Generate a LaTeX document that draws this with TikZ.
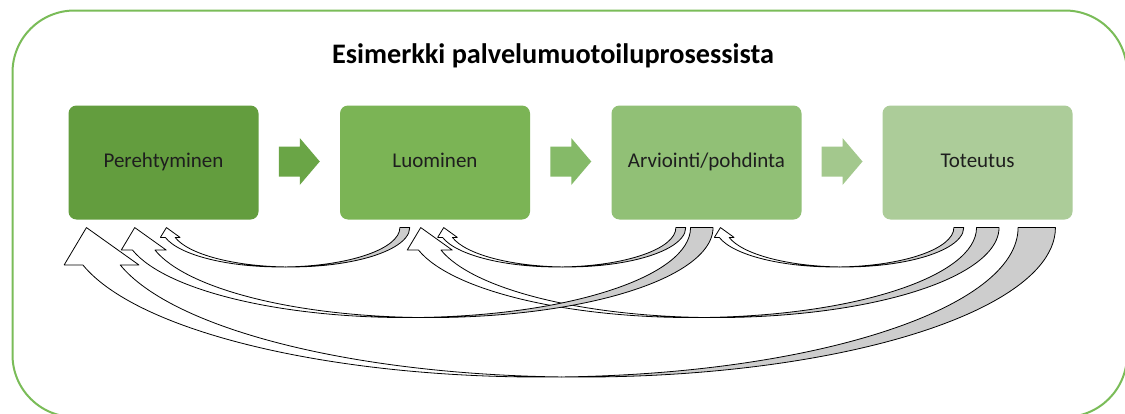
\documentclass[tikz,border=0pt]{standalone}
\usepackage{fontspec}
\setmainfont{Carlito}
\usetikzlibrary{calc}

\definecolor{frameGreen}{RGB}{122,188,88}
\definecolor{stageA}{RGB}{99,157,62}
\definecolor{stageB}{RGB}{123,180,85}
\definecolor{stageC}{RGB}{145,192,118}
\definecolor{stageD}{RGB}{172,204,153}
\definecolor{stepA}{RGB}{106,165,70}
\definecolor{stepB}{RGB}{133,186,104}
\definecolor{stepC}{RGB}{163,200,141}
\definecolor{ribbonGrey}{RGB}{205,205,205}
\definecolor{labelInk}{RGB}{30,30,30}

\tikzset{
  stage/.style={rounded corners=6pt, minimum width=142.5pt, minimum height=85.5pt,
    inner sep=0pt, text=labelInk, text height=0.95em, text depth=0.25em,
    font=\fontsize{15.75pt}{18pt}\selectfont},
  ribbonback/.style={fill=ribbonGrey, draw=black, line width=0.6pt, line join=round},
  ribbonfront/.style={fill=white, draw=black, line width=0.6pt, line join=round},
}

% forward step arrow centred between two stages
\newcommand\stepsign[3]{%
  \fill[#3] ($(#1.east)!0.5!(#2.west)+(0,-1)$) ++(-20.5,-15) -- ++(21,0) -- ++(0,-8.5)
    -- ++(20,23.5) -- ++(-20,23.5) -- ++(0,-8.5) -- ++(-21,0) -- cycle;
}

% curved return ribbon: #1 source stage, #2 tail offset, #3 target stage,
% #4 tip offset, #5 depth of the loop (px)
\newcommand\loopback[5]{%
  \path ($(#1.south west)+(#2,7.8)$); \pgfgetlastxy{\lbRd}{\lbTd}%
  \path ($(#3.south west)+(#4,7.8)$); \pgfgetlastxy{\lbXd}{\lbYd}%
  \pgfmathsetmacro\lbR{\lbRd}%
  \pgfmathsetmacro\lbT{\lbTd}%
  \pgfmathsetmacro\lbX{\lbXd}%
  \pgfmathsetmacro\lbh{0.75*#5}%
  \pgfmathsetmacro\lbth{0.25*\lbh}%
  \pgfmathsetmacro\lbw{(\lbR-\lbX-0.5*\lbth)/2}%
  \pgfmathsetmacro\lbi{acos(\lbth/(2*\lbw))}%
  \pgfmathsetmacro\lbea{-180+\lbi}%
  \pgfmathsetmacro\lbeb{-\lbi}%
  \pgfmathsetmacro\lbc{\lbR-\lbw}%
  \pgfmathsetmacro\lbix{\lbc-0.5*\lbth}%
  \pgfmathsetmacro\lbiy{\lbT-\lbh*sin(\lbi)}%
  \pgfmathsetmacro\lbdx{\lbw*cos(14.4775)}%
  \pgfmathsetmacro\lbbi{\lbc-\lbdx+0.125*\lbh}%
  \pgfmathsetmacro\lbbo{\lbc-\lbth-\lbdx-0.125*\lbh}%
  \pgfmathsetmacro\lbbs{\lbc-\lbth-\lbdx}%
  \pgfmathsetmacro\lbby{\lbT-0.25*\lbh}%
  \path[ribbonback] (\lbR pt,\lbT pt)
    arc[start angle=0, end angle=\lbea, x radius=\lbw pt, y radius=\lbh pt]
    arc[start angle=\lbeb, end angle=0, x radius=\lbw pt, y radius=\lbh pt] -- cycle;
  \path[ribbonfront] (\lbix pt,\lbiy pt)
    arc[start angle=\lbea, end angle=-165.5225, x radius=\lbw pt, y radius=\lbh pt]
    -- (\lbbi pt,\lbby pt) -- (\lbX pt,\lbT pt) -- (\lbbo pt,\lbby pt) -- (\lbbs pt,\lbby pt)
    arc[start angle=-165.5225, end angle=\lbeb, x radius=\lbw pt, y radius=\lbh pt] -- cycle;
}

\begin{document}
\begin{tikzpicture}[x=0.75pt,y=-0.75pt]
\useasboundingbox (0,0) rectangle (1125,414);
\fill[white] (0,0) rectangle (1125,414);

% outer frame
\draw[frameGreen, line width=1.5pt, rounded corners=46.5pt] (12.5,10.5) rectangle (1127,417);

% heading
\node[anchor=base, font=\bfseries\fontsize{21.2pt}{25pt}\selectfont, text=black] (title)
  at (553,63) {Esimerkki palvelumuotoiluprosessista};

% process stages
\node[stage, fill=stageA] (per) at (163.5,162.5) {Perehtyminen};
\node[stage, fill=stageB] (luo) at (435,162.5)   {Luominen};
\node[stage, fill=stageC] (arv) at (706.5,162.5) {Arviointi/pohdinta};
\node[stage, fill=stageD] (tot) at (977.5,162.5) {Toteutus};

% forward steps
\stepsign{per}{luo}{stepA}
\stepsign{luo}{arv}{stepB}
\stepsign{arv}{tot}{stepC}

% return loops, widest first
\loopback{tot}{173.2}{per}{18.2}{149.5}
\loopback{tot}{116.8}{luo}{81}{90}
\loopback{arv}{101.8}{per}{66.5}{90}
\loopback{tot}{81.5}{arv}{109.2}{39.4}
\loopback{arv}{74.5}{luo}{104}{39.4}
\loopback{luo}{70}{per}{98.2}{39.4}
\end{tikzpicture}
\end{document}
